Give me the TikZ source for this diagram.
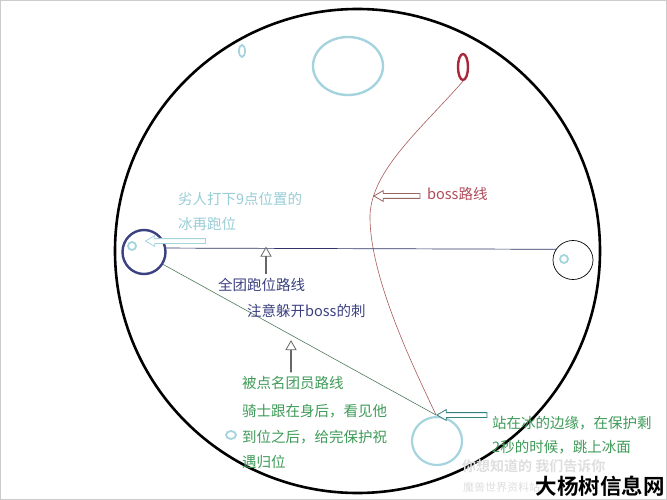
\documentclass[tikz,border=0pt]{standalone}
\usepackage{fontspec}
\newfontfamily\cjk{Noto Sans CJK SC}
\newfontfamily\cjkb{Noto Sans CJK SC Bold}
\usetikzlibrary{shapes.geometric,shapes.arrows}
\definecolor{iceblue}{HTML}{A6D4DE}
\definecolor{icetext}{HTML}{98CCD6}
\definecolor{navy}{HTML}{3B4080}
\definecolor{grtext}{HTML}{3E9A58}
\definecolor{redtext}{HTML}{B04A5A}
\definecolor{bossred}{HTML}{A85A5A}
\definecolor{bossring}{HTML}{A8283A}
\definecolor{grline}{HTML}{4E7A5C}
\definecolor{wmgray}{HTML}{DEDEDE}
\tikzset{
  ring/.style={ellipse, draw, inner sep=0pt},
  label/.style={anchor=west, inner sep=0pt, font=\cjk\fontsize{14.5}{16}\selectfont},
  hollow/.style={single arrow, draw, fill=white, line width=0.8pt, inner xsep=0pt, inner ysep=2pt,
    minimum width=10pt, single arrow head extend=3pt, single arrow tip angle=60, single arrow head indent=0pt},
}
\begin{document}
\begin{tikzpicture}[x=1pt,y=-1pt]
\useasboundingbox (0,0) rectangle (667,500);
\draw[gray!40, line width=1pt] (0.5,0.5) rectangle (666.5,499.5);
% arena
\node[ring, line width=2.6pt, minimum width=485pt, minimum height=484pt] (arena) at (357.5,251) {};
% ice blocks and markers
\node[ring, draw=iceblue, line width=1.8pt, minimum width=6pt, minimum height=12pt] (tiny) at (242,51) {};
\node[ring, draw=iceblue, line width=2.4pt, minimum width=70pt, minimum height=58pt] (icetop) at (348,66) {};
\node[ring, draw=bossring, line width=2.4pt, minimum width=10pt, minimum height=26pt] (boss) at (463,67) {};
\node[ring, draw=navy, line width=2.4pt, minimum width=43pt, minimum height=44pt] (left) at (144,252) {};
\node[ring, draw=iceblue, line width=1.8pt, minimum width=8pt, minimum height=8pt] (lmark) at (132,246) {};
\node[ring, line width=0.7pt, minimum width=40pt, minimum height=39pt] (right) at (573,260) {};
\node[ring, draw=iceblue, line width=1.8pt, minimum width=8pt, minimum height=8pt] (rmark) at (564,259) {};
\node[ring, draw=iceblue, line width=2.2pt, minimum width=50pt, minimum height=48pt] (icebot) at (437,441) {};
\node[ring, draw=iceblue, line width=1.8pt, minimum width=10pt, minimum height=8pt] (bmark) at (231,435) {};
\coordinate (jump) at (436,415);
% paths
\draw[bossred, line width=0.6pt] (boss.south) .. controls (420,130) and (372,170) .. (370,215)
  .. controls (369,280) and (420,380) .. (jump);
\draw[navy!80!black, line width=0.7pt] (left.10) -- (right.148);
\draw[grline, line width=0.6pt] (left.-33) -- (jump);
% hollow arrows
\node[hollow, draw=iceblue, minimum height=60pt, shape border rotate=180] (a1) at (177.5,241) {};
\node[hollow, draw=gray!80!black, minimum height=26pt, shape border rotate=90] (a2) at (266,261) {};
\node[hollow, draw=gray!80!black, minimum height=31pt, shape border rotate=90] (a3) at (291,357) {};
\node[hollow, draw=gray!80!red, minimum height=46pt, shape border rotate=180] (a4) at (399,196) {};
\node[hollow, draw=teal!60!gray, minimum height=50pt, shape border rotate=180] (a5) at (464,415) {};
% labels
\node[label, text=icetext] (t1) at (178,199) {劣人打下9点位置的};
\node[label, text=icetext] (t2) at (178,224) {冰再跑位};
\node[label, text=navy] (t3) at (218,285) {全团跑位路线};
\node[label, text=navy] (t4) at (247,311) {注意躲开boss的刺};
\node[label, text=redtext] (t5) at (427,194) {boss路线};
\node[label, text=grtext] (t6) at (242,383) {被点名团员路线};
\node[label, text=grtext] (t7) at (242,411) {骑士跟在身后，看见他};
\node[label, text=grtext] (t8) at (242,437) {到位之后，给完保护祝};
\node[label, text=grtext] (t9) at (242,462) {遇归位};
\node[label, text=grtext] (t10) at (492,423) {站在冰的边缘，在保护剩};
\node[label, text=grtext] (t11) at (492,447) {2秒的时候，跳上冰面};
% watermark
\node[anchor=west, inner sep=0pt, text=wmgray, font=\cjkb\fontsize{14}{16}\selectfont] (w1) at (462,466) {你想知道的 我们告诉你};
\node[anchor=west, inner sep=0pt, text=wmgray, font=\cjk\fontsize{11}{13}\selectfont] (w2) at (463,487) {魔兽世界资料站};
\node[anchor=east, inner sep=0pt, text=black, font=\cjkb\fontsize{21.5}{24}\selectfont] (w3) at (665,486) {大杨树信息网};
\end{tikzpicture}
\end{document}
